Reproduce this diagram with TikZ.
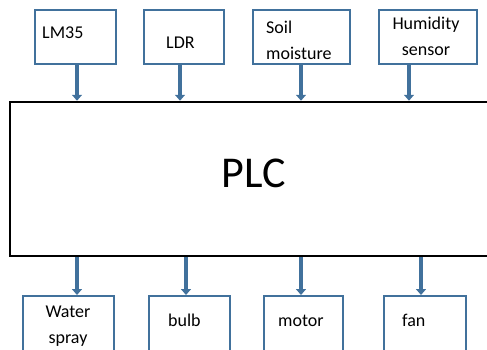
\documentclass[tikz,border=0pt]{standalone}
\usepackage{fontspec}
\setmainfont{Carlito}
\usepackage{tikz}
\usetikzlibrary{arrows.meta}
\definecolor{boxblue}{RGB}{65,113,156}
\tikzset{
  unit/.style={draw=boxblue, line width=1.8pt, fill=white, inner sep=0pt, anchor=north west},
  lbl/.style={font=\fontsize{18}{26}\selectfont, inner sep=0pt, anchor=base west, align=left},
  feed/.style={draw=boxblue, line width=4.5pt, -{Triangle[width=10pt,length=6pt]}}
}

\begin{document}
\begin{tikzpicture}[x=1pt,y=-1pt]

\useasboundingbox (0,0) rectangle (487,349);
\clip (0,0) rectangle (487,349);

\node [draw, line width=2.5pt, minimum width=487pt, minimum height=154pt, text depth=12pt, font=\fontsize{44}{44}\selectfont] (plc) at (253.5,179) {PLC};

% sensors
\foreach \n/\x/\w in {lm/34/81, ldr/143/80, soil/252/97, hum/378/98}
  {\node [unit, minimum width=\w pt, minimum height=54pt] (\n) at (\x,9) {};}

% actuators
\foreach \n/\x/\w in {spray/22/91, bulb/148/81, motor/263/79, fan/383/82}
  {\node [unit, minimum width=\w pt, minimum height=60pt] (\n) at (\x,295) {};}

% base of a two-line label is its last line
\node [lbl] (lmtext) at (42,38) {LM35};
\node [lbl] (ldrtext) at (166,48) {LDR};
\node [lbl] (soiltext) at (266,59) {Soil\\moisture};
\node [lbl, anchor=base, align=center] (humtext) at (426,55) {Humidity\\sensor};
\node [lbl, anchor=base, align=center] (spraytext) at (68,343) {Water\\spray};
\node [lbl] (bulbtext) at (168,326) {bulb};
\node [lbl] (motortext) at (278,326) {motor};
\node [lbl] (fantext) at (402,326) {fan};

\foreach \n/\x in {lm/77, ldr/180, soil/301, hum/409}
  {\draw [feed] (\x,0 |- \n.south) -- (\x,0 |- plc.north);}
\foreach \n/\x in {spray/77, bulb/186, motor/301, fan/421}
  {\draw [feed] (\x,0 |- plc.south) -- (\x,0 |- \n.north);}

\end{tikzpicture}
\end{document}
